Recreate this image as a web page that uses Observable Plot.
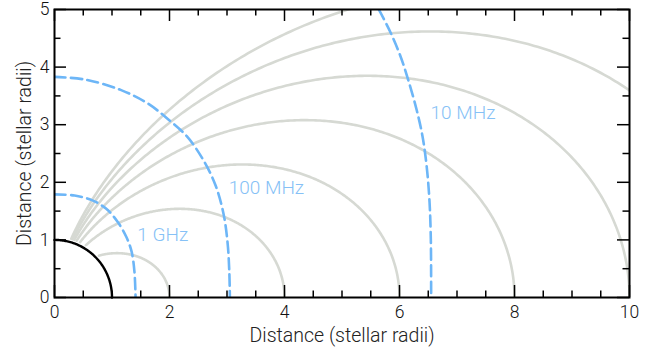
<!DOCTYPE html>
<html><head><meta charset="utf-8">
<script src="https://cdn.jsdelivr.net/npm/d3@7"></script>
<script src="https://cdn.jsdelivr.net/npm/@observablehq/plot@0.6"></script>
<style>
html,body{margin:0;padding:0;background:#fff;}
svg{display:block;}
</style>
</head><body>
<div id="chart"></div>
<script>
// ---- data ----
const xMajorTicks = [0, 2, 4, 6, 8, 10];
const xMinorTicks = [0.5, 1, 1.5, 2.5, 3, 3.5, 4.5, 5, 5.5, 6.5, 7, 7.5, 8.5, 9, 9.5];
const yMajorTicks = [0, 1, 2, 3, 4, 5];
const yMinorTicks = [0.5, 1.5, 2.5, 3.5, 4.5];

// dipole field lines: equatorial crossing distance L (stellar radii)
const fieldLineL = [2, 4, 6, 8, 10, 12, 14];
const fieldLineStartR = 1.06;
const starRadius = 1;

// plasma-frequency contours
const contourNames = ["1 GHz", "100 MHz", "10 MHz"];
const contour1GHzX = [0, 0.35, 0.65, 0.90, 1.10, 1.25, 1.34, 1.39, 1.41];
const contour1GHzY = [1.79, 1.77, 1.69, 1.54, 1.31, 1.05, 0.80, 0.45, 0];
const contour100MHzX = [0, 0.55, 1.16, 1.62, 1.97, 2.30, 2.58, 2.80, 2.94, 3.01, 3.04, 3.05];
const contour100MHzY = [3.83, 3.78, 3.60, 3.37, 3.10, 2.80, 2.40, 1.95, 1.45, 0.95, 0.45, 0];
const contour10MHzX = [5.64, 5.84, 6.02, 6.16, 6.30, 6.40, 6.47, 6.52, 6.545, 6.55];
const contour10MHzY = [5.0, 4.61, 4.18, 3.75, 3.25, 2.80, 2.30, 1.70, 1.0, 0];
const contourLabelX = [1.44, 3.03, 6.54];
const contourLabelY = [0.98, 1.80, 3.10];

const axisLabel = "Distance (stellar radii)";

// ---- build tables ----
const fieldLines = fieldLineL.flatMap(L => {
  const th0 = Math.asin(Math.sqrt(fieldLineStartR / L));
  const n = 300;
  return d3.range(n + 1).map(i => {
    const th = th0 + (Math.PI / 2 - th0) * i / n;
    const r = L * Math.sin(th) ** 2;
    return {L, x: r * Math.sin(th), y: r * Math.cos(th)};
  });
});
const star = d3.range(0, 91).map(a => {
  const t = a * Math.PI / 180;
  return {x: starRadius * Math.sin(t), y: starRadius * Math.cos(t)};
});
const contourXs = [contour1GHzX, contour100MHzX, contour10MHzX];
const contourYs = [contour1GHzY, contour100MHzY, contour10MHzY];
const contours = contourNames.flatMap((name, k) =>
  contourXs[k].map((x, i) => ({name, x, y: contourYs[k][i]})));
const labels = contourNames.map((name, k) => ({name, x: contourLabelX[k], y: contourLabelY[k]}));

const W = 663, H = 351, mL = 54, mR = 34, mT = 9, mB = 54;
const innerW = W - mL - mR, innerH = H - mT - mB;
const majorLen = 12, minorLen = 6.5;

const gray = "#d6d9d3", blue = "#6db6f7", blueText = "#86c1f6";

const chart = Plot.plot({
  width: W, height: H,
  marginLeft: mL, marginRight: mR, marginTop: mT, marginBottom: mB,
  x: {domain: [0, 10], axis: null},
  y: {domain: [0, 5], axis: null},
  style: {fontFamily: "Roboto, 'Noto Sans', sans-serif", background: "#fff"},
  marks: [
    Plot.line(fieldLines, {x: "x", y: "y", z: "L", stroke: gray, strokeWidth: 2.6, clip: true}),
    Plot.line(contours, {x: "x", y: "y", z: "name", stroke: blue, strokeWidth: 2.6,
      strokeDasharray: "11,5.5", curve: "catmull-rom", clip: true}),
    Plot.line(star, {x: "x", y: "y", stroke: "#000", strokeWidth: 2.4}),
    Plot.text(labels, {x: "x", y: "y", text: "name", fill: blueText, fontSize: 19,
      fontWeight: 300, textAnchor: "start", lineAnchor: "bottom"}),
    Plot.frame({stroke: "#000", strokeWidth: 2}),
    // ticks pointing inward on all four sides
    Plot.ruleX(xMajorTicks, {x: d => d, insetTop: innerH - majorLen, stroke: "#000", strokeWidth: 1.5}),
    Plot.ruleX(xMinorTicks, {x: d => d, insetTop: innerH - minorLen, stroke: "#000", strokeWidth: 1.5}),
    Plot.ruleX(xMajorTicks, {x: d => d, insetBottom: innerH - majorLen, stroke: "#000", strokeWidth: 1.5}),
    Plot.ruleX(xMinorTicks, {x: d => d, insetBottom: innerH - minorLen, stroke: "#000", strokeWidth: 1.5}),
    Plot.ruleY(yMajorTicks, {y: d => d, insetRight: innerW - majorLen, stroke: "#000", strokeWidth: 1.5}),
    Plot.ruleY(yMinorTicks, {y: d => d, insetRight: innerW - minorLen, stroke: "#000", strokeWidth: 1.5}),
    Plot.ruleY(yMajorTicks, {y: d => d, insetLeft: innerW - majorLen, stroke: "#000", strokeWidth: 1.5}),
    Plot.ruleY(yMinorTicks, {y: d => d, insetLeft: innerW - minorLen, stroke: "#000", strokeWidth: 1.5}),
    // tick labels
    Plot.text(xMajorTicks, {x: d => d, text: d => String(d), frameAnchor: "bottom", dy: 8,
      textAnchor: "middle", lineAnchor: "top", fontSize: 17.5, fontWeight: 300, fill: "#111"}),
    Plot.text(yMajorTicks, {y: d => d, text: d => String(d), frameAnchor: "left", dx: -5,
      textAnchor: "end", lineAnchor: "middle", fontSize: 17.5, fontWeight: 300, fill: "#111"}),
    // axis labels
    Plot.text([axisLabel], {text: d => d, frameAnchor: "bottom", dy: 44.5, textAnchor: "middle",
      lineAnchor: "bottom", fontSize: 19.5, fontWeight: 300, fill: "#222"}),
    Plot.text([axisLabel], {text: d => d, frameAnchor: "left", dx: -24, rotate: -90,
      textAnchor: "middle", lineAnchor: "bottom", fontSize: 19.5, fontWeight: 300, fill: "#222"})
  ]
});
document.getElementById("chart").appendChild(chart);
</script>
</body></html>
